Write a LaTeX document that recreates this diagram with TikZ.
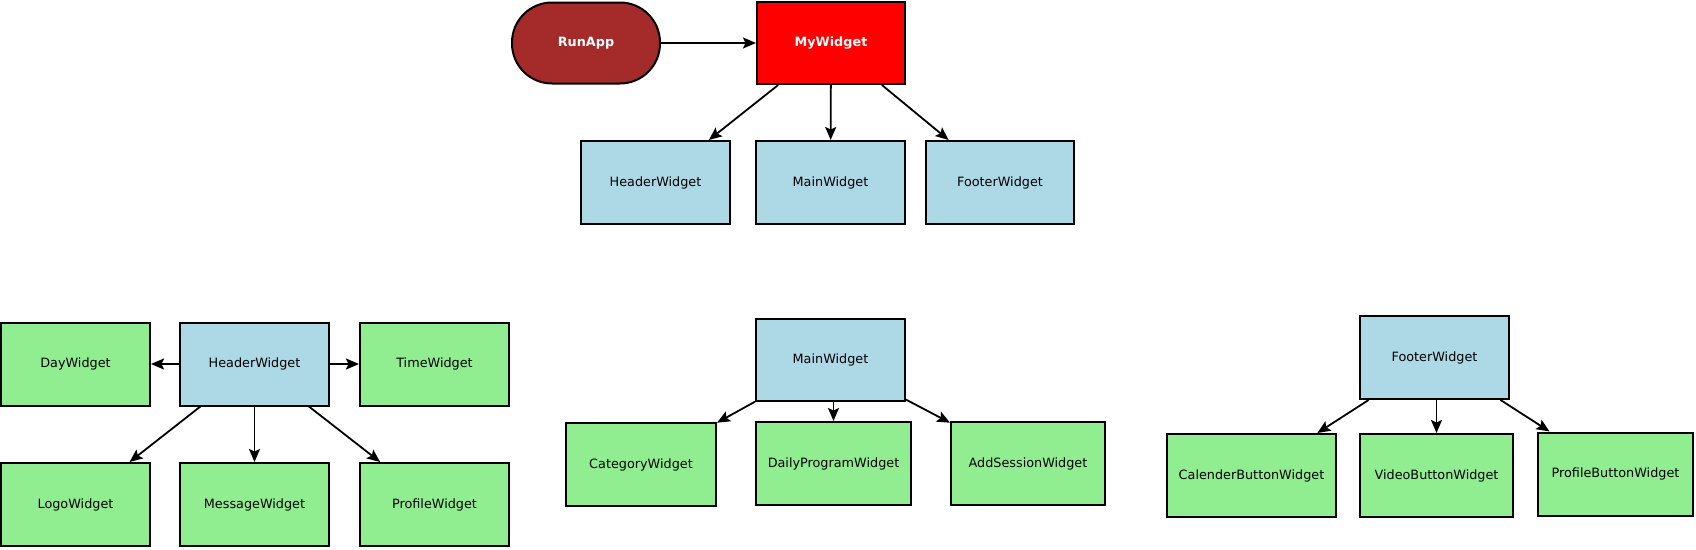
\documentclass[tikz,border=0pt]{standalone}
\usepackage{fontspec}
\setmainfont{DejaVu Sans}
\usetikzlibrary{arrows.meta}
\definecolor{brownfill}{HTML}{A52A2A}
\definecolor{lblue}{HTML}{ADD8E6}
\definecolor{lgreen}{HTML}{90EE90}
\tikzset{
  box/.style={draw=black, line width=2pt, minimum width=149pt, minimum height=83pt, inner sep=0pt,
    font=\fontsize{12.8}{15}\selectfont, text=black},
  bluebox/.style={box, fill=lblue},
  greenbox/.style={box, fill=lgreen},
  arr/.style={-{Stealth[length=13pt,width=11pt,inset=2.5pt]}, line width=1.8pt, black},
}
\begin{document}
\begin{tikzpicture}[x=1pt,y=1pt]
\useasboundingbox (0,0) rectangle (1696,-549);
% top
\node[box, fill=brownfill, rounded corners=40pt, minimum width=148pt, minimum height=81pt,
  font=\fontsize{12.8}{15}\selectfont\bfseries, text=white] (run) at (586,-43) {RunApp};
\node[box, fill=red, minimum width=148pt, minimum height=82pt,
  font=\fontsize{12.8}{15}\selectfont\bfseries, text=white] (my) at (831,-43) {MyWidget};
\node[bluebox] (hw) at (655.5,-182.5) {HeaderWidget};
\node[bluebox] (mw) at (830.5,-182.5) {MainWidget};
\node[bluebox, minimum width=148pt] (fw) at (1000,-182.5) {FooterWidget};
\draw[arr] (run) -- (my);
\draw[arr] (my) -- (hw);
\draw[arr] (my) -- (mw);
\draw[arr] (my) -- (fw);
% header group
\node[bluebox] (hwb) at (254.5,-364) {HeaderWidget};
\node[greenbox] (day) at (75.5,-364) {DayWidget};
\node[greenbox] (time) at (434.5,-364) {TimeWidget};
\node[greenbox] (logo) at (75.5,-504.5) {LogoWidget};
\node[greenbox] (msg) at (254.5,-504.5) {MessageWidget};
\node[greenbox] (prof) at (434.5,-504.5) {ProfileWidget};
\draw[arr] (hwb) -- (day);
\draw[arr] (hwb) -- (time);
\draw[arr] (hwb) -- (logo);
\draw[arr] (hwb) -- (msg);
\draw[arr] (hwb) -- (prof);
% main group
\node[bluebox, minimum height=82pt] (mwb) at (830.5,-360) {MainWidget};
\node[greenbox, minimum width=150pt] (cat) at (641,-464.5) {CategoryWidget};
\node[greenbox, minimum width=155pt] (daily) at (833.5,-463.5) {DailyProgramWidget};
\node[greenbox, minimum width=154pt] (add) at (1028,-463.5) {AddSessionWidget};
\draw[arr] (mwb) -- (cat);
\draw[arr] (mwb.south -| daily.north) -- (daily);
\draw[arr] (mwb) -- (add);
% footer group
\node[bluebox] (fwb) at (1434.5,-357.5) {FooterWidget};
\node[greenbox, minimum width=169pt] (cal) at (1251.5,-475.5) {CalenderButtonWidget};
\node[greenbox, minimum width=153pt] (vid) at (1436.5,-475.5) {VideoButtonWidget};
\node[greenbox, minimum width=155pt] (pbw) at (1615.5,-474) {ProfileButtonWidget};
\draw[arr] (fwb) -- (cal);
\draw[arr] (fwb.south -| vid.north) -- (vid);
\draw[arr] (fwb) -- (pbw);
\end{tikzpicture}
\end{document}
